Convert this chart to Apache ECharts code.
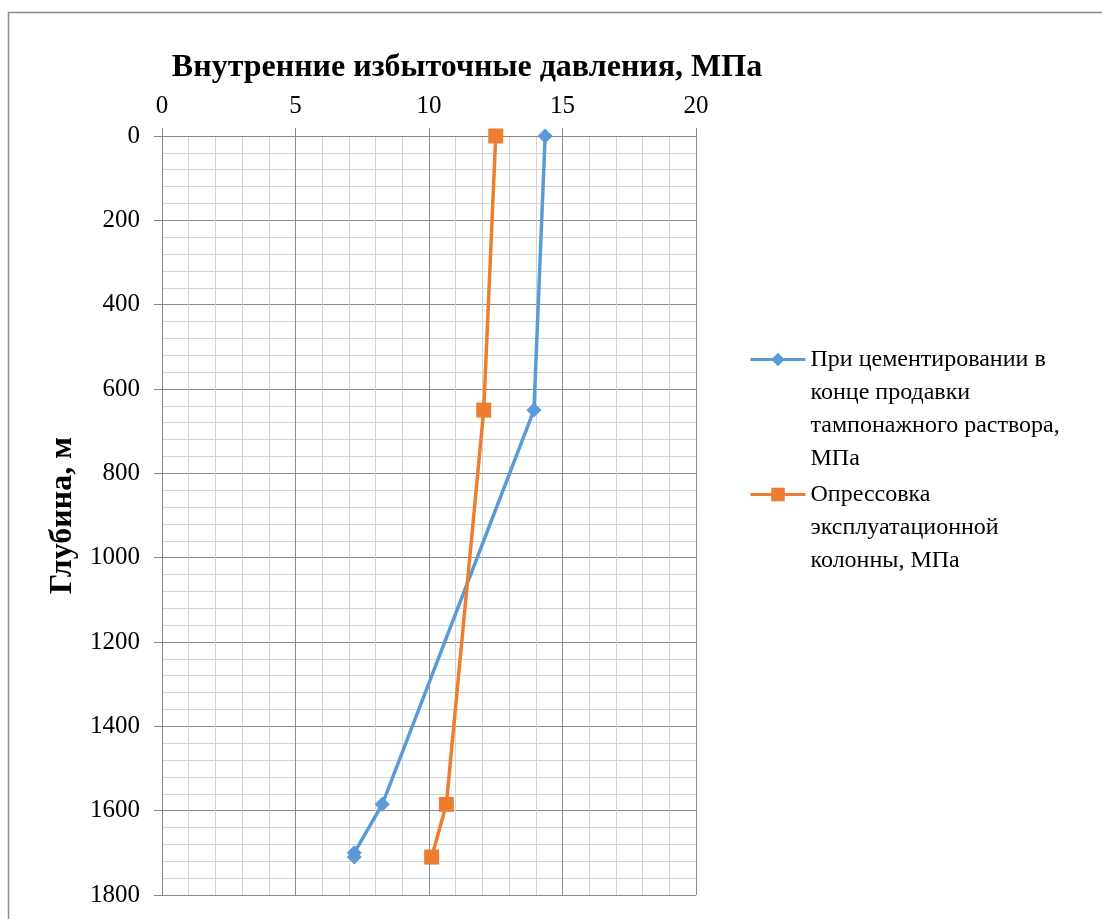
<!DOCTYPE html>
<html>
<head>
<meta charset="utf-8">
<script src="https://cdn.jsdelivr.net/npm/echarts@6/dist/echarts.min.js"></script>
<style>
  html, body { margin: 0; padding: 0; background: #fff; }
  #chart { width: 1102px; height: 919px; }
</style>
</head>
<body>
<div id="chart"></div>
<script>
// Internal overpressure profiles along the well depth
const seriesNames = [
  'При цементировании в\nконце продавки\nтампонажного раствора,\nМПа',
  'Опрессовка\nэксплуатационной\nколонны, МПа'
];
const depthCement = [0, 650, 1585, 1700, 1710];        // m
const pressureCement = [14.35, 13.93, 8.25, 7.2, 7.2]; // MPa
const depthTest = [0, 650, 1585, 1710];                // m
const pressureTest = [12.5, 12.05, 10.65, 10.1];       // MPa
const pressureTicks = [0, 5, 10, 15, 20];
const depthTicks = [0, 200, 400, 600, 800, 1000, 1200, 1400, 1600, 1800];

const FONT = 'Liberation Serif';
const LINE_H = 33;
const pair = (xs, ys) => xs.map((x, i) => [x, ys[i]]);

// Legend text is centred on its icon; leading blank lines put the icon
// level with the first line of a multi-line name.
const alignFirstLine = name => '\n'.repeat(name.split('\n').length - 1) + name;

const legendFor = (name, top) => ({
  orient: 'vertical',
  left: 749,
  top: top,
  padding: 0,
  itemWidth: 55,
  itemHeight: 17,
  lineStyle: { width: 3 },
  textStyle: { fontFamily: FONT, fontSize: 24, color: '#000', lineHeight: LINE_H },
  formatter: alignFirstLine,
  data: [name]
});

const chart = echarts.init(document.getElementById('chart'), null, { renderer: 'canvas' });

chart.setOption({
  animation: false,
  backgroundColor: '#ffffff',
  graphic: [{
    type: 'rect',
    shape: { x: 8.5, y: 12.5, width: 1120, height: 940 },
    style: { fill: 'none', stroke: '#8a8a8a', lineWidth: 1.5 },
    silent: true,
    z: -10
  }],
  title: {
    text: 'Внутренние избыточные давления, МПа',
    left: 462,
    top: 47,
    textAlign: 'center',
    textStyle: { fontFamily: FONT, fontWeight: 'bold', fontSize: 32, color: '#000' }
  },
  legend: [
    legendFor(seriesNames[0], 244),
    legendFor(seriesNames[1], 412)
  ],
  grid: { left: 162, top: 136, width: 534, height: 759, containLabel: false },
  xAxis: {
    type: 'value',
    position: 'top',
    min: 0, max: 20, interval: 5,
    axisLine: { show: true, lineStyle: { color: '#868686', width: 1 } },
    axisTick: { show: true, length: 8, inside: false, lineStyle: { color: '#868686' } },
    axisLabel: {
      margin: 17, fontFamily: FONT, fontSize: 25, color: '#000',
      formatter: v => pressureTicks.includes(v) ? String(v) : ''
    },
    splitLine: { show: true, lineStyle: { color: '#8c8c8c', width: 1 } },
    minorTick: { show: false, splitNumber: 5 },
    minorSplitLine: { show: true, lineStyle: { color: '#d4d4d4', width: 1 } }
  },
  yAxis: {
    type: 'value',
    inverse: true,
    min: 0, max: 1800, interval: 200,
    name: 'Глубина, м',
    nameLocation: 'middle',
    nameRotate: 90,
    nameGap: 83,
    nameTextStyle: { fontFamily: FONT, fontWeight: 'bold', fontSize: 32, color: '#000' },
    axisLine: { show: true, lineStyle: { color: '#868686', width: 1 } },
    axisTick: { show: true, length: 8, inside: false, lineStyle: { color: '#868686' } },
    axisLabel: {
      margin: 22, fontFamily: FONT, fontSize: 25, color: '#000',
      formatter: v => depthTicks.includes(v) ? String(v) : ''
    },
    splitLine: { show: true, lineStyle: { color: '#8c8c8c', width: 1 } },
    minorTick: { show: false, splitNumber: 5 },
    minorSplitLine: { show: true, lineStyle: { color: '#d4d4d4', width: 1 } }
  },
  series: [
    {
      name: seriesNames[0],
      type: 'line',
      data: pair(pressureCement, depthCement),
      symbol: 'diamond',
      symbolSize: 15,
      showAllSymbol: true,
      color: '#5B9BD5',
      lineStyle: { width: 3.5, color: '#5B9BD5' },
      itemStyle: { color: '#5B9BD5' },
      z: 3
    },
    {
      name: seriesNames[1],
      type: 'line',
      data: pair(pressureTest, depthTest),
      symbol: 'rect',
      symbolSize: 15,
      showAllSymbol: true,
      color: '#ED7D31',
      lineStyle: { width: 3.5, color: '#ED7D31' },
      itemStyle: { color: '#ED7D31' },
      z: 4
    }
  ]
});
</script>
</body>
</html>
